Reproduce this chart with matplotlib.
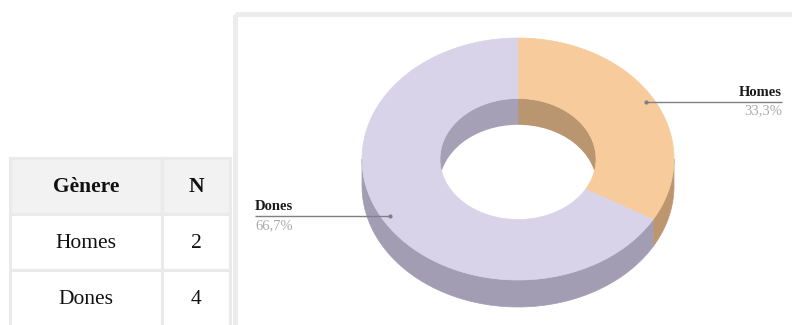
import numpy as np
import matplotlib
matplotlib.use('Agg')
import matplotlib.pyplot as plt
from matplotlib.patches import Polygon, Ellipse, Rectangle

# table / donut data
header = ['Gènere', 'N']
genres = ['Homes', 'Dones']
counts = [2, 4]

top_colours = ['#F8CB9C', '#D9D3E9']
side_colours = ['#BD9670', '#A39DB4']
inner_colours = ['#B99570', '#A6A0B6']

W, H = 792, 325
fig = plt.figure(figsize=(W / 100, H / 100), dpi=100)
ax = fig.add_axes([0, 0, 1, 1])
ax.set_xlim(0, W)
ax.set_ylim(H, 0)
ax.axis('off')
serif = 'Liberation Serif'

# ---- table on the left ----
col_x = [10, 162, 230]
row_y = [158, 214, 270, 326]
grid = '#EAEAEA'
for r in range(3):
    for c in range(2):
        x0, x1 = col_x[c], col_x[c + 1]
        y0, y1 = row_y[r], row_y[r + 1]
        ax.add_patch(Rectangle((x0, y0), x1 - x0, y1 - y0,
                               facecolor='#F2F2F2' if r == 0 else 'white',
                               edgecolor=grid, lw=2.2))
        if r == 0:
            txt, w = header[c], 'bold'
        else:
            txt = genres[r - 1] if c == 0 else str(counts[r - 1])
            w = 'normal'
        ax.text((x0 + x1) / 2, (y0 + y1) / 2 + 1, txt, ha='center', va='center',
                fontsize=15.5, fontweight=w, family=serif, color='#111111')

# ---- chart panel frame ----
ax.add_patch(Rectangle((234.5, 13.5), 700, 400, fill=False, ec='#ECECEC', lw=3.6))

# ---- 3D donut ----
cx, cy = 518, 159
rx, ry = 156, 121
inner = 0.5
depth = 27


def pts(a0, a1, r, dy=0, n=120):
    t = np.radians(np.linspace(a0, a1, n))
    return np.column_stack([cx + r * rx * np.cos(t), cy - r * ry * np.sin(t) + dy])


def clip(a, b, lo, hi):
    out = []
    for k in (-2, -1, 0, 1):
        s, e = max(a, lo + 360 * k), min(b, hi + 360 * k)
        if e > s:
            out.append((s, e))
    return out


total = sum(counts)
fracs = [c / total for c in counts]
spans = []
start = 90.0
for f in fracs:
    end = start - 360 * f
    spans.append((end, start))
    start = end

# outer walls (front half only)
for (a, b), col in zip(spans, side_colours):
    for s, e in clip(a, b, -180, 0):
        poly = np.vstack([pts(s, e, 1), pts(e, s, 1, depth)])
        ax.add_patch(Polygon(poly, closed=True, fc=col, ec=col, lw=0.5))

# inner walls (back half, seen through the hole)
for (a, b), col in zip(spans, inner_colours):
    for s, e in clip(a, b, 0, 180):
        poly = np.vstack([pts(s, e, inner), pts(e, s, inner, depth)])
        ax.add_patch(Polygon(poly, closed=True, fc=col, ec=col, lw=0.5))

hole = Ellipse((cx, cy), 2 * inner * rx, 2 * inner * ry, fc='none', ec='none')
ax.add_patch(hole)
floor = Ellipse((cx, cy + depth), 2 * inner * rx, 2 * inner * ry, fc='white', ec='white')
ax.add_patch(floor)
floor.set_clip_path(hole)

# top faces
for (a, b), col in zip(spans, top_colours):
    poly = np.vstack([pts(a, b, 1), pts(b, a, inner)])
    ax.add_patch(Polygon(poly, closed=True, fc=col, ec=col, lw=0.5))

# ---- labels ----
for (a, b), name, f in zip(spans, genres, fracs):
    mid = np.radians((a + b) / 2)
    px = cx + 0.95 * rx * np.cos(mid)
    py = cy - 0.95 * ry * np.sin(mid)
    right = np.cos(mid) > 0
    lx = 782 if right else 255
    ha = 'right' if right else 'left'
    ax.plot([px, lx], [py, py], color='#7F7F88', lw=1.0, solid_capstyle='butt')
    ax.plot(px, py, 'o', ms=2, color='#7F7F88')
    pct = f'{f * 100:.1f}'.replace('.', ',') + '%'
    ax.text(lx, py - 3, name, ha=ha, va='bottom', fontsize=10.5, fontweight='bold',
            family=serif, color='#1A1A1A')
    ax.text(lx, py + 3, pct, ha=ha, va='top', fontsize=10.5, family=serif, color='#ABABAB')

fig.savefig('out.png', dpi=100)
